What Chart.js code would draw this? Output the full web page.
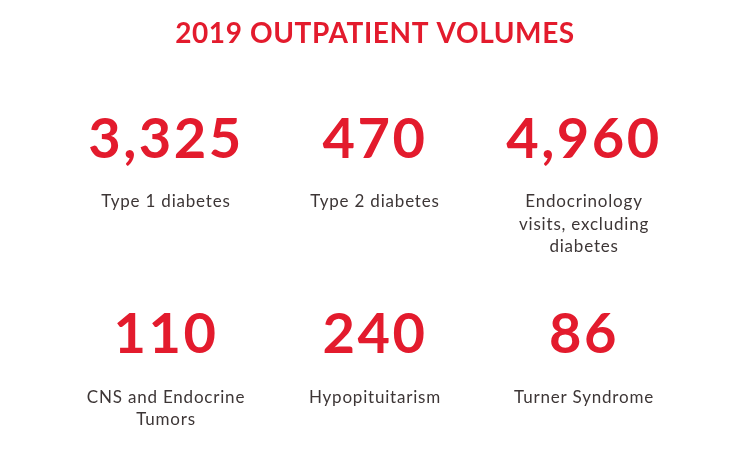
<!DOCTYPE html>
<html lang="en">
<head>
    <meta charset="UTF-8">
    <title>2019 Outpatient Volumes</title>
    <script src="https://cdn.jsdelivr.net/npm/chart.js"></script>
    <style>
        html, body { margin: 0; padding: 0; background: #fff; }
        #wrap { width: 750px; height: 453px; }
    </style>
</head>
<body>
    <div id="wrap"><canvas id="volumeChart"></canvas></div>

    <script>
        // data read from the graphic
        const chartTitle = '2019 OUTPATIENT VOLUMES';
        const categories = [
            ['Type 1 diabetes'],
            ['Type 2 diabetes'],
            ['Endocrinology', 'visits, excluding', 'diabetes'],
            ['CNS and Endocrine', 'Tumors'],
            ['Hypopituitarism'],
            ['Turner Syndrome']
        ];
        const volumes = [3325, 470, 4960, 110, 240, 86];
        const gridCol = [0, 1, 2, 0, 1, 2];
        const gridRow = [0, 0, 0, 1, 1, 1];

        const RED = '#e31b2d';
        const GREY = '#3d3636';

        const tilePlugin = {
            id: 'tiles',
            afterDatasetsDraw(chart) {
                const ctx = chart.ctx;
                const xs = chart.scales.x, ys = chart.scales.y;
                ctx.save();
                ctx.textAlign = 'center';
                ctx.textBaseline = 'middle';

                // title
                ctx.fillStyle = RED;
                ctx.font = 'bold 28px Lato';
                ctx.letterSpacing = '0.6px';
                ctx.fillText(chartTitle, chart.width / 2, 34);

                chart.data.datasets[0].data.forEach((pt, i) => {
                    const px = xs.getPixelForValue(pt.x);
                    const py = ys.getPixelForValue(pt.y);
                    ctx.fillStyle = RED;
                    ctx.font = 'bold 56px Lato';
                    ctx.letterSpacing = '2.5px';
                    ctx.fillText(volumes[i].toLocaleString('en-US'), px, py);

                    ctx.fillStyle = GREY;
                    ctx.font = '17px Lato';
                    ctx.letterSpacing = '0.8px';
                    categories[i].forEach((line, j) => {
                        ctx.fillText(line, px, py + 62 + j * 22.5);
                    });
                });
                ctx.restore();
            }
        };

        new Chart(document.getElementById('volumeChart'), {
            type: 'scatter',
            data: {
                datasets: [{
                    label: 'Outpatient volumes',
                    data: volumes.map((v, i) => ({ x: gridCol[i], y: gridRow[i] })),
                    pointRadius: 0,
                    pointHoverRadius: 0
                }]
            },
            options: {
                responsive: true,
                maintainAspectRatio: false,
                animation: false,
                layout: { padding: 0 },
                plugins: {
                    legend: { display: false },
                    tooltip: { enabled: false }
                },
                scales: {
                    x: { display: false, min: -0.794, max: 2.794 },
                    y: { display: false, reverse: true, min: -0.718, max: 1.605 }
                }
            },
            plugins: [tilePlugin]
        });
    </script>
</body>
</html>
